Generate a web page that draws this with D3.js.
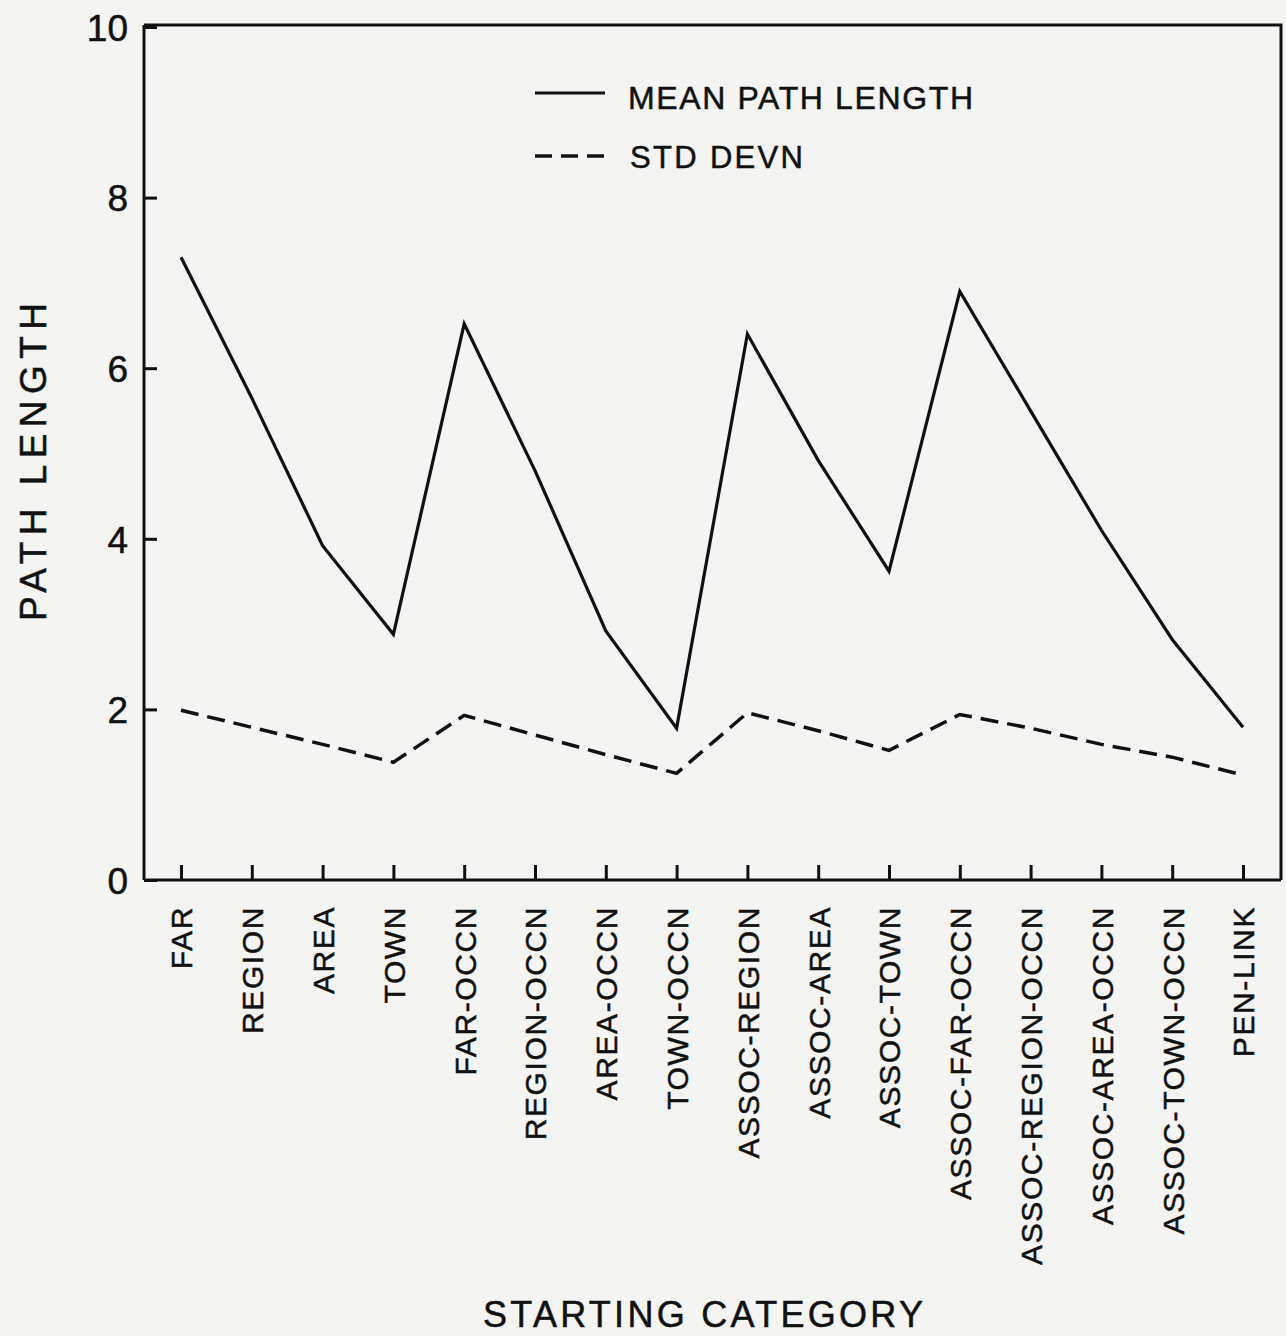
<!DOCTYPE html>
<html>
<head>
<meta charset="utf-8">
<script src="https://cdn.jsdelivr.net/npm/d3@7"></script>
<style>
  html, body { margin: 0; padding: 0; background: #f4f4f2; }
  svg { display: block; }
  text { font-family: "Liberation Sans", Arial, sans-serif; fill: #111; stroke: #111; stroke-width: 0.5px; }
</style>
</head>
<body>
<svg id="chart" width="1286" height="1336"></svg>
<script>
// Starting categories along the x axis
const categories = [
  "FAR", "REGION", "AREA", "TOWN",
  "FAR-OCCN", "REGION-OCCN", "AREA-OCCN", "TOWN-OCCN",
  "ASSOC-REGION", "ASSOC-AREA", "ASSOC-TOWN",
  "ASSOC-FAR-OCCN", "ASSOC-REGION-OCCN", "ASSOC-AREA-OCCN", "ASSOC-TOWN-OCCN",
  "PEN-LINK"
];

// Mean path length per starting category
const meanPathLength = [
  7.3, 5.65, 3.92, 2.88,
  6.52, 4.8, 2.92, 1.78,
  6.4, 4.92, 3.62,
  6.9, 5.5, 4.1, 2.82,
  1.79
];

// Standard deviation of path length per starting category
const stdDevn = [
  1.99, 1.79, 1.59, 1.38,
  1.93, 1.7, 1.47, 1.25,
  1.96, 1.75, 1.52,
  1.94, 1.78, 1.59, 1.44,
  1.23
];

const yTicks = [0, 2, 4, 6, 8, 10];

const svg = d3.select("#chart");
const x = d3.scalePoint().domain(categories).range([181, 1243]);
const y = d3.scaleLinear().domain([0, 10]).range([880, 27]);
const left = 144, right = 1281;

// Plot frame: top and right edges
svg.append("path")
  .attr("d", `M${left},${y(10) - 2}H${right}V${y(0)}`)
  .attr("fill", "none").attr("stroke", "#111").attr("stroke-width", 3);

// Y axis with inward ticks
const yAxis = svg.append("g")
  .attr("transform", `translate(${left},0)`)
  .call(d3.axisLeft(y).tickValues(yTicks).tickSizeInner(-13).tickSizeOuter(0).tickPadding(16));
yAxis.select(".domain").attr("stroke", "#111").attr("stroke-width", 3)
  .attr("d", `M0,${y(10) - 2}V${y(0)}`);
yAxis.selectAll(".tick line").attr("stroke", "#111").attr("stroke-width", 3);
yAxis.selectAll(".tick text")
  .style("font-size", "37px").attr("fill", "#111").attr("dy", "0.36em");

// X axis with inward ticks and vertical category labels
const xAxis = svg.append("g")
  .attr("transform", `translate(0,${y(0)})`)
  .call(d3.axisBottom(x).tickSizeInner(-15).tickSizeOuter(0));
xAxis.select(".domain").attr("stroke", "#111").attr("stroke-width", 3)
  .attr("d", `M${left},0H${right}`);
xAxis.selectAll(".tick line").attr("stroke", "#111").attr("stroke-width", 3);
xAxis.selectAll(".tick text")
  .style("font-size", "30px")
  .style("letter-spacing", "1.6px")
  .attr("fill", "#111")
  .attr("transform", "rotate(-90)")
  .attr("text-anchor", "end")
  .attr("x", -26).attr("y", 0).attr("dy", "0.36em");

// Data lines
const line = d3.line().x((d, i) => x(categories[i])).y(d => y(d));

svg.append("path")
  .datum(meanPathLength)
  .attr("d", line)
  .attr("fill", "none").attr("stroke", "#111")
  .attr("stroke-width", 3.2).attr("stroke-linejoin", "miter");

svg.append("path")
  .datum(stdDevn)
  .attr("d", line)
  .attr("fill", "none").attr("stroke", "#111")
  .attr("stroke-width", 3.5).attr("stroke-dasharray", "18,9");

// Legend
const legend = svg.append("g");
legend.append("line")
  .attr("x1", 535).attr("x2", 605).attr("y1", 93).attr("y2", 93)
  .attr("stroke", "#111").attr("stroke-width", 3);
legend.append("text")
  .attr("x", 628).attr("y", 109)
  .attr("textLength", 345).attr("lengthAdjust", "spacing")
  .style("font-size", "32px").text("MEAN PATH LENGTH");
legend.append("line")
  .attr("x1", 535).attr("x2", 605).attr("y1", 156).attr("y2", 156)
  .attr("stroke", "#111").attr("stroke-width", 3.5).attr("stroke-dasharray", "17,9");
legend.append("text")
  .attr("x", 630).attr("y", 168)
  .attr("textLength", 173).attr("lengthAdjust", "spacing")
  .style("font-size", "31px").text("STD DEVN");

// Axis titles
svg.append("text")
  .attr("transform", "translate(46,462) rotate(-90)")
  .attr("text-anchor", "middle")
  .attr("textLength", 318).attr("lengthAdjust", "spacing")
  .style("font-size", "37px").text("PATH LENGTH");

svg.append("text")
  .attr("x", 703).attr("y", 1327)
  .attr("text-anchor", "middle")
  .attr("textLength", 440).attr("lengthAdjust", "spacing")
  .style("font-size", "36px").text("STARTING CATEGORY");
</script>
</body>
</html>
